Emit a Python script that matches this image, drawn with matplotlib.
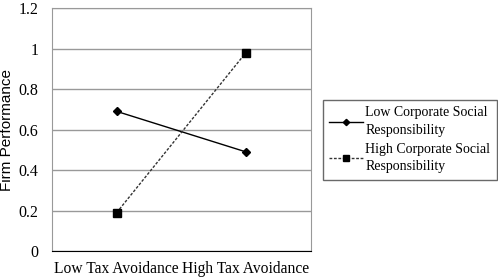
import matplotlib
matplotlib.use('Agg')
import matplotlib.pyplot as plt

categories = ['Low Tax Avoidance', 'High Tax Avoidance']
low_csr = [0.69, 0.49]
high_csr = [0.19, 0.98]
yticks = [0, 0.2, 0.4, 0.6, 0.8, 1, 1.2]
ytick_labels = ['0', '0.2', '0.4', '0.6', '0.8', '1', '1.2']

fig = plt.figure(figsize=(4.98, 2.79), dpi=100)
ax = fig.add_axes([0.1045, 0.10, 0.519, 0.871])

x = [0.5, 1.5]
ax.plot(x, low_csr, color='black', lw=1, marker='D', ms=4,
        label='Low Corporate Social\nResponsibility')
ax.plot(x, high_csr, color='#333333', lw=1, ls=(0, (2, 1.2)), marker='s', ms=6,
        mfc='black', mec='black', label='High Corporate Social\nResponsibility')

ax.set_xlim(0, 2)
ax.set_ylim(0, 1.2)
ax.set_yticks(yticks)
ax.set_yticklabels(ytick_labels, family='Liberation Serif', fontsize=11.5)
ax.set_xticks(x)
ax.set_xticklabels(categories, family='Liberation Serif', fontsize=11.2)
ax.tick_params(axis='y', length=0, pad=10)
ax.tick_params(axis='x', length=0, pad=7)
ax.yaxis.grid(True, color='#999999', lw=1)
ax.set_axisbelow(True)
for s in ['left', 'top', 'right']:
    ax.spines[s].set_color('#999999')
ax.spines['bottom'].set_color('black')
ax.set_ylabel('Firm Performance', family='Liberation Sans', fontsize=11, labelpad=3)

leg = fig.legend(loc='upper left', bbox_to_anchor=(0.6486, 0.642),
                 prop={'family': 'Liberation Serif', 'size': 10},
                 frameon=True, fancybox=False, edgecolor='#444444',
                 handlelength=2.45, handletextpad=0.15, borderpad=0.45,
                 labelspacing=0.45, borderaxespad=0, markerscale=0.8)
leg.get_frame().set_linewidth(1.0)
for t in leg.get_texts():
    t.set_linespacing(1.45)

fig.savefig('out.png', dpi=100)
